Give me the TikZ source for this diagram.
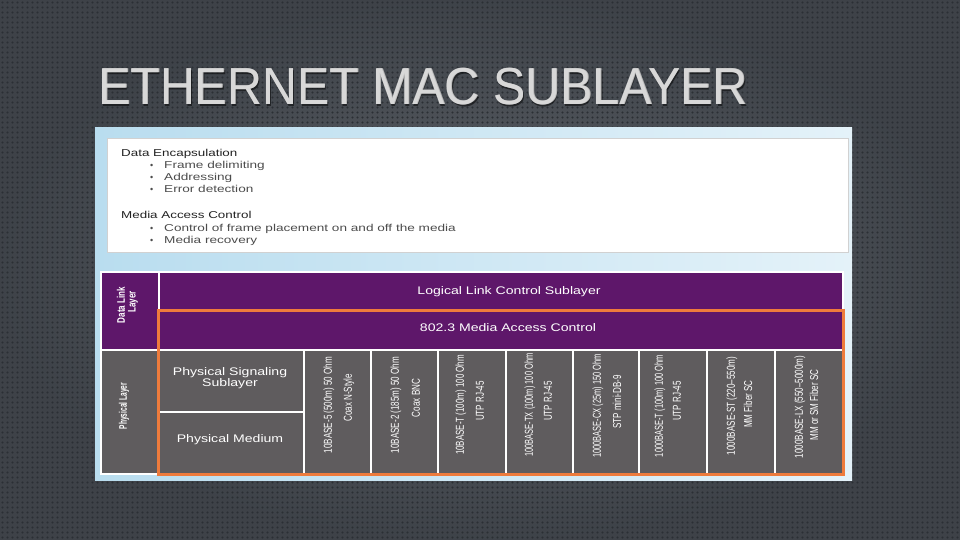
\documentclass[tikz,border=0pt]{standalone}
\usepackage{fontspec}
\setmainfont{Liberation Sans}
\usetikzlibrary{patterns}
\pgfdeclarepatternformonly{mydots}{\pgfqpoint{-1pt}{-1pt}}{\pgfqpoint{6pt}{6pt}}{\pgfqpoint{5pt}{5pt}}{\pgfpathcircle{\pgfqpoint{2.5pt}{2.5pt}}{1.2pt}\pgfusepath{fill}}
\definecolor{bgc}{HTML}{474C53}
\definecolor{dotc}{HTML}{2B2F34}
\definecolor{purp}{HTML}{5E176A}
\definecolor{grayc}{HTML}{5F5C5E}
\definecolor{orng}{HTML}{EE7B3C}
\definecolor{titlec}{HTML}{D8D8D8}
\definecolor{titled}{HTML}{B8B8B8}
\definecolor{panelL}{HTML}{B9DDEF}
\definecolor{panelR}{HTML}{E4F2F9}
\definecolor{headc}{HTML}{222222}
\definecolor{itemc}{HTML}{4C4C4C}
\newcommand\hstr[2]{\scalebox{#1}[1]{#2}}
\begin{document}
\begin{tikzpicture}[x=1pt,y=-1pt,
  cell/.style={draw=white, line width=1.5pt, inner sep=0pt, anchor=north west},
  htxt/.style={text=white, font=\fontsize{11}{12}\selectfont, inner sep=0pt, anchor=base},
  vtxt/.style={rotate=90, text=white, font=\fontsize{11.5}{12}\selectfont, inner sep=0pt},
  vbold/.style={rotate=90, text=white, font=\fontsize{11}{12}\selectfont\bfseries, inner sep=0pt},
  boxhead/.style={text=headc, font=\fontsize{10}{12}\selectfont, inner sep=0pt, anchor=base west},
  boxitem/.style={text=itemc, font=\fontsize{10}{12}\selectfont, inner sep=0pt, anchor=base west},
  bul/.style={text=itemc, font=\fontsize{9}{12}\selectfont, inner sep=0pt, anchor=base west},
  titlestyle/.style={anchor=base west, font=\fontsize{52}{52}\selectfont, inner sep=0pt}
]
\useasboundingbox (0,0) rectangle (960,540);
% background
\fill[bgc] (0,0) rectangle (960,540);
\shade[inner color=white, outer color=black, opacity=0.12] (0,0) rectangle (960,540);
\fill[pattern=mydots, pattern color=dotc] (0,0) rectangle (960,540);

% title
\node[titlestyle, text=black, opacity=0.5] (titleshadow) at (99.5,106.5) {\hstr{0.93}{ETHERNET MAC SUBLAYER}};
\node[titlestyle, text=titled] (titleback) at (98.8,105) {\hstr{0.93}{ETHERNET MAC SUBLAYER}};
\node[titlestyle, text=titlec] (title) at (98,105) {\hstr{0.93}{ETHERNET MAC SUBLAYER}};

% panel
\shade[left color=panelL, right color=panelR] (95,128) rectangle (852,480);

% white box
\node[draw=black!18, fill=white, anchor=north west, minimum width=741pt, minimum height=114pt, inner sep=0pt] (box) at (107,138) {};
\node[boxhead] (h1) at (121,156.5) {\hstr{1.34}{Data Encapsulation}};
\node[bul] (b1) at (150,169) {•};
\node[boxitem] (i1) at (164,169) {\hstr{1.36}{Frame delimiting}};
\node[bul] (b2) at (150,181) {•};
\node[boxitem] (i2) at (164,181) {\hstr{1.36}{Addressing}};
\node[bul] (b3) at (150,193) {•};
\node[boxitem] (i3) at (164,193) {\hstr{1.36}{Error detection}};
\node[boxhead] (h2) at (121,218) {\hstr{1.34}{Media Access Control}};
\node[bul] (b4) at (150,231) {•};
\node[boxitem] (i4) at (164,231) {\hstr{1.36}{Control of frame placement on and off the media}};
\node[bul] (b5) at (150,243) {•};
\node[boxitem] (i5) at (164,243) {\hstr{1.36}{Media recovery}};

% table cells
\node[cell, fill=purp, minimum width=58pt, minimum height=78pt] (dll) at (100,271) {};
\node[cell, fill=purp, minimum width=684pt, minimum height=39pt] (llc) at (158,271) {};
\node[cell, fill=purp, minimum width=684pt, minimum height=39pt] (mac) at (158,310) {};
\node[cell, fill=grayc, minimum width=58pt, minimum height=124pt] (phy) at (100,349) {};
\node[cell, fill=grayc, minimum width=145pt, minimum height=62pt] (pss) at (158,349) {};
\node[cell, fill=grayc, minimum width=145pt, minimum height=62pt] (pm) at (158,411) {};
\node[cell, fill=grayc, minimum width=67pt, minimum height=124pt] (c1) at (303,349) {};
\node[cell, fill=grayc, minimum width=67pt, minimum height=124pt] (c2) at (370,349) {};
\node[cell, fill=grayc, minimum width=68pt, minimum height=124pt] (c3) at (437,349) {};
\node[cell, fill=grayc, minimum width=67pt, minimum height=124pt] (c4) at (505,349) {};
\node[cell, fill=grayc, minimum width=66pt, minimum height=124pt] (c5) at (572,349) {};
\node[cell, fill=grayc, minimum width=68pt, minimum height=124pt] (c6) at (638,349) {};
\node[cell, fill=grayc, minimum width=68pt, minimum height=124pt] (c7) at (706,349) {};
\node[cell, fill=grayc, minimum width=68pt, minimum height=124pt] (c8) at (774,349) {};

% orange frame
\draw[orng, line width=3pt] (mac.north west) rectangle (c8.south east);

% horizontal labels
\node[htxt] (tllc) at (509,294) {\hstr{1.28}{Logical Link Control Sublayer}};
\node[htxt] (tmac) at (508,331.5) {\hstr{1.28}{802.3 Media Access Control}};
\node[htxt] (tpss1) at (230,375.5) {\hstr{1.28}{Physical Signaling}};
\node[htxt] (tpss2) at (230,386) {\hstr{1.28}{Sublayer}};
\node[htxt] (tpm) at (230,442) {\hstr{1.28}{Physical Medium}};

% left rotated labels
\node[vbold] (tdll1) at (121,305) {\hstr{0.73}{Data Link}};
\node[vbold] (tdll2) at (133,302) {\hstr{0.73}{Layer}};
\node[vbold] (tphy) at (124,406) {\hstr{0.6}{Physical Layer}};

% column labels
\node[vtxt] (l1a) at (329,405) {\hstr{0.7}{10BASE-5 (500m) 50 Ohm}};
\node[vtxt] (l1b) at (349,398) {\hstr{0.7}{Coax N-Style}};
\node[vtxt] (l2a) at (396,405) {\hstr{0.7}{10BASE-2 (185m) 50 Ohm}};
\node[vtxt] (l2b) at (416,398) {\hstr{0.7}{Coax BNC}};
\node[vtxt] (l3a) at (461,405) {\hstr{0.69}{10BASE-T (100m) 100 Ohm}};
\node[vtxt] (l3b) at (480,401) {\hstr{0.7}{UTP RJ-45}};
\node[vtxt] (l4a) at (530,405) {\hstr{0.65}{100BASE-TX (100m) 100 Ohm}};
\node[vtxt] (l4b) at (548,401) {\hstr{0.7}{UTP RJ-45}};
\node[vtxt] (l5a) at (598,406) {\hstr{0.65}{1000BASE-CX (25m) 150 Ohm}};
\node[vtxt] (l5b) at (617,402) {\hstr{0.7}{STP mini-DB-9}};
\node[vtxt] (l6a) at (660,406) {\hstr{0.65}{1000BASE-T (100m) 100 Ohm}};
\node[vtxt] (l6b) at (677,401) {\hstr{0.7}{UTP RJ-45}};
\node[vtxt] (l7a) at (732,406) {\hstr{0.7}{1000BASE-ST (220–550m)}};
\node[vtxt] (l7b) at (748,404) {\hstr{0.7}{MM Fiber SC}};
\node[vtxt] (l8a) at (800,407) {\hstr{0.7}{1000BASE-LX (550–5000m)}};
\node[vtxt] (l8b) at (814,405) {\hstr{0.7}{MM or SM Fiber SC}};
\end{tikzpicture}
\end{document}
